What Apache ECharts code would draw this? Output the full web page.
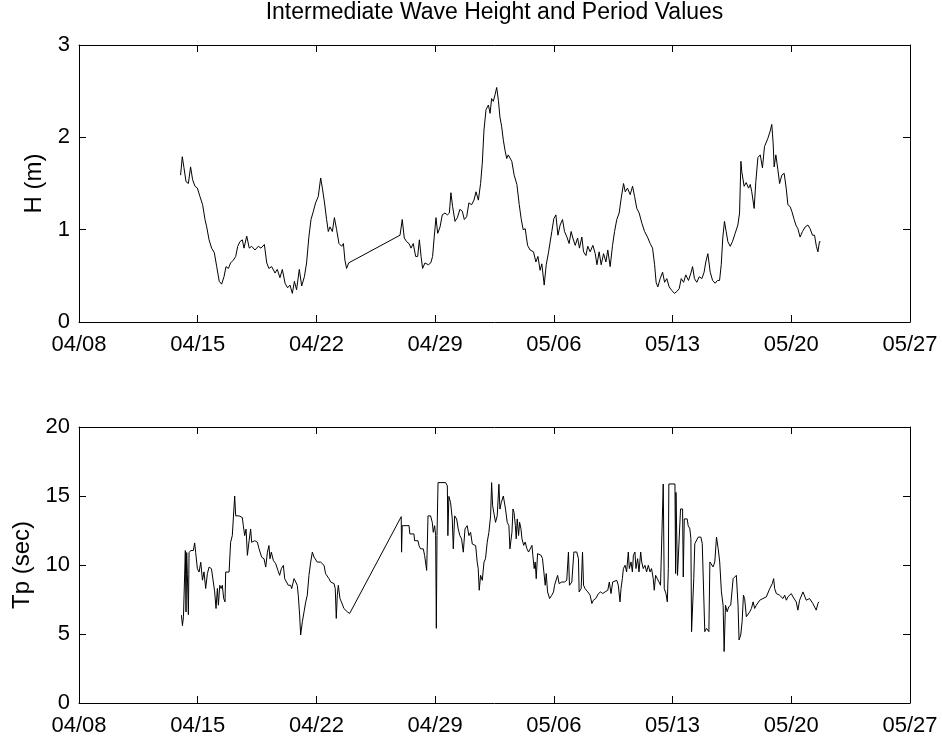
<!DOCTYPE html>
<html>
<head>
<meta charset="utf-8">
<script src="https://cdn.jsdelivr.net/npm/echarts@6/dist/echarts.min.js"></script>
<style>
html,body{margin:0;padding:0;background:#fff;}
#chart{width:942px;height:742px;}
</style>
</head>
<body>
<div id="chart"></div>
<script>
// x values are days after 04/08
var xTickLabels = ["04/08","04/15","04/22","04/29","05/06","05/13","05/20","05/27"];
var titleText = "Intermediate Wave Height and Period Values";

var hDays = [5.99,6.09,6.19,6.31,6.45,6.58,6.70,6.84,6.98,7.13,7.29,7.43,7.53,7.67,7.82,7.98,8.12,8.27,8.41,8.55,8.67,8.81,8.94,9.10,9.24,9.36,9.49,9.63,9.73,9.89,10.04,10.18,10.38,10.57,10.73,10.93,11.07,11.20,11.36,11.56,11.69,11.85,11.99,12.15,12.30,12.44,12.58,12.70,12.83,12.99,13.13,13.29,13.42,13.56,13.68,13.82,13.95,14.11,14.25,14.35,14.47,14.60,14.70,14.80,14.94,15.06,15.19,15.33,15.49,15.59,15.68,15.78,15.90,
18.93,19.06,19.18,19.32,19.46,19.58,19.71,19.85,19.97,20.07,20.17,20.26,20.40,20.60,20.74,20.85,20.95,21.05,21.15,21.29,21.42,21.58,21.72,21.84,21.93,22.03,22.17,22.31,22.46,22.60,22.72,22.86,22.99,23.15,23.29,23.41,23.55,23.68,23.78,23.88,24.00,24.14,24.24,24.33,24.43,24.53,24.63,24.73,24.82,24.92,25.02,25.12,25.22,25.31,
25.52,25.66,25.82,25.96,26.07,26.19,26.31,26.45,26.60,26.80,26.94,27.06,27.19,27.29,27.43,27.55,27.69,27.88,28.00,28.12,28.24,28.37,28.51,28.63,28.77,28.90,29.02,29.12,29.26,29.40,29.51,29.65,29.75,29.89,30.00,30.14,30.30,30.44,30.54,30.67,30.79,30.93,31.07,31.18,31.32,31.46,31.58,31.71,31.85,31.97,32.11,32.21,32.34,32.50,32.64,32.76,32.89,33.03,33.19,33.35,33.52,33.68,33.82,33.94,34.03,34.13,34.27,34.41,34.53,34.66,34.80,34.96,35.11,35.25,35.39,35.51,35.65,35.78,35.94,36.08,36.18,36.29,36.43,36.57,36.73,36.86,36.96,37.08,37.22,37.36,37.51,37.65,37.77,37.87,37.96,38.06,38.16,38.26,38.40,38.53,38.69,38.85,38.95,39.03,39.08,39.22,39.34,39.48,39.58,39.67,39.81,39.91,40.03,40.17,40.30,40.42,40.52,40.62,40.76,40.85,40.93,40.99,41.09,41.21,41.31,41.44,41.58,41.70,41.80,41.93,42.03,42.17,42.27,42.39,42.52,42.66,42.82,42.98,43.11,43.25,43.37,43.48,43.57,43.66,43.72];
var hValues = [1.59,1.79,1.67,1.52,1.50,1.68,1.54,1.47,1.45,1.36,1.27,1.11,1.03,0.89,0.80,0.75,0.60,0.44,0.41,0.49,0.60,0.58,0.64,0.67,0.71,0.82,0.87,0.89,0.80,0.93,0.80,0.82,0.78,0.82,0.80,0.84,0.64,0.58,0.60,0.53,0.57,0.48,0.57,0.42,0.37,0.40,0.31,0.44,0.35,0.57,0.39,0.49,0.64,0.93,1.11,1.20,1.29,1.36,1.56,1.45,1.30,1.11,0.98,1.03,0.98,1.13,1.00,0.85,0.82,0.85,0.67,0.58,0.64,
0.94,1.11,0.91,0.87,0.85,0.80,0.85,0.71,0.71,0.89,0.71,0.58,0.64,0.62,0.64,0.71,0.93,1.13,0.96,1.03,1.16,1.18,1.16,1.18,1.40,1.25,1.09,1.13,1.22,1.20,1.11,1.14,1.29,1.27,1.32,1.41,1.32,1.50,1.72,2.08,2.30,2.35,2.26,2.42,2.39,2.46,2.54,2.40,2.22,2.12,1.97,1.86,1.77,1.81,
1.74,1.59,1.49,1.27,1.12,1.00,1.01,0.83,0.78,0.76,0.65,0.71,0.56,0.63,0.40,0.62,0.76,0.98,1.12,1.16,0.94,1.05,1.11,0.98,0.92,0.85,0.98,0.91,0.83,0.91,0.80,0.92,0.76,0.72,0.82,0.76,0.83,0.74,0.62,0.76,0.62,0.74,0.65,0.78,0.60,0.83,0.98,1.11,1.18,1.34,1.50,1.41,1.45,1.38,1.47,1.36,1.23,1.18,1.07,0.98,0.92,0.85,0.80,0.62,0.43,0.38,0.47,0.54,0.43,0.47,0.38,0.34,0.31,0.33,0.36,0.47,0.43,0.51,0.45,0.53,0.60,0.47,0.43,0.49,0.47,0.54,0.65,0.74,0.54,0.45,0.42,0.45,0.45,0.62,0.91,1.09,0.98,0.87,0.82,0.87,0.96,1.05,1.18,1.74,1.63,1.47,1.51,1.45,1.49,1.41,1.23,1.52,1.78,1.81,1.67,1.90,1.92,1.99,2.07,2.14,1.94,1.68,1.81,1.65,1.50,1.59,1.61,1.45,1.27,1.25,1.20,1.11,1.05,1.01,0.92,0.98,1.03,1.05,1.01,0.94,0.94,0.82,0.76,0.87,0.87];

var tpDays = [6.04,6.10,6.16,6.21,6.27,6.31,6.35,6.39,6.45,6.49,6.59,6.74,6.82,6.88,6.98,7.08,7.18,7.28,7.37,7.47,7.57,7.67,7.81,7.92,8.00,8.08,8.16,8.22,8.30,8.38,8.45,8.53,8.61,8.65,8.75,8.85,8.94,9.04,9.14,9.18,9.24,9.44,9.63,9.69,9.77,9.85,9.93,10.03,10.12,10.18,10.26,10.36,10.52,10.61,10.77,10.91,11.01,11.11,11.20,11.26,11.34,11.46,11.60,11.73,11.83,11.93,12.05,12.13,12.23,12.34,12.48,12.54,12.68,12.78,12.87,12.93,13.01,13.07,13.17,13.27,13.37,13.46,13.56,13.66,13.76,13.86,13.95,14.05,14.15,14.25,14.35,14.45,14.54,14.64,14.74,14.84,14.94,15.04,15.11,15.17,15.23,15.29,15.39,15.47,15.55,15.62,15.72,15.82,15.96,
19.00,19.02,19.06,19.46,19.51,19.75,19.79,19.99,20.05,20.14,20.30,20.38,20.50,20.58,20.73,20.83,20.89,20.97,21.03,21.07,21.11,21.17,21.62,21.72,21.75,21.81,21.91,22.01,22.07,22.15,22.27,22.36,22.46,22.56,22.66,22.76,22.89,22.99,23.09,23.19,23.29,23.39,23.48,23.54,23.60,23.68,23.78,23.88,23.97,24.07,24.17,24.27,24.33,24.39,24.47,24.56,24.66,24.76,24.82,24.90,25.02,25.15,25.25,25.35,25.41,
25.53,25.59,25.65,25.73,25.78,25.84,25.92,25.98,26.06,26.12,26.22,26.31,26.41,26.51,26.61,26.71,26.76,26.84,26.90,26.96,27.04,27.14,27.25,27.33,27.41,27.49,27.55,27.63,27.75,27.88,27.98,28.04,28.12,28.22,28.31,28.47,28.63,28.76,28.86,28.92,28.98,29.06,29.18,29.35,29.45,29.49,29.61,29.69,29.75,29.84,30.00,30.14,30.24,30.33,30.47,30.63,30.76,30.88,31.02,31.18,31.27,31.37,31.47,31.57,31.71,31.80,31.90,31.96,32.04,32.10,32.20,32.29,32.39,32.45,32.55,32.63,32.69,32.78,32.84,32.94,33.02,33.12,33.18,33.27,33.37,33.47,33.57,33.67,33.76,33.86,33.92,34.00,34.10,34.20,34.29,34.39,34.45,34.51,34.61,34.69,34.75,34.78,35.14,35.18,35.20,35.29,35.39,35.47,35.59,35.63,35.69,35.86,35.92,36.02,36.08,36.12,36.18,36.25,36.31,36.41,36.51,36.67,36.75,36.86,36.90,37.00,37.14,37.20,37.29,37.39,37.49,37.59,37.69,37.78,37.88,37.98,38.04,38.12,38.22,38.31,38.43,38.51,38.57,38.67,38.76,38.86,38.92,39.02,39.10,39.18,39.25,39.35,39.45,39.55,39.65,39.75,39.84,39.94,40.04,40.14,40.24,40.33,40.43,40.53,40.63,40.73,40.82,40.88,40.96,41.02,41.12,41.22,41.31,41.41,41.51,41.61,41.71,41.80,41.90,42.00,42.10,42.20,42.29,42.39,42.49,42.59,42.69,42.78,42.88,42.98,43.08,43.18,43.27,43.37,43.47,43.57,43.63];
var tpValues = [6.37,5.60,6.25,6.37,11.05,6.6,10.9,9.3,6.4,10.9,11.05,11.05,11.6,10.9,9.73,9.49,10.2,8.9,9.5,8.3,9.37,9.85,9.73,8.77,8.05,6.85,8.3,7.09,8.53,8.3,8.53,7.57,7.33,9.49,9.49,9.49,11.65,12.13,12.13,15.0,13.56,13.56,13.44,12.84,12.13,12.6,10.7,11.76,12.61,11.65,11.76,11.76,11.65,11.2,10.57,10.45,9.85,10.93,11.41,10.45,10.93,10.33,10.09,9.61,9.25,9.73,9.97,9.01,8.89,8.53,8.53,8.29,9.01,8.77,8.53,7.81,6.37,4.93,5.89,6.61,7.33,7.81,9.25,10.21,10.93,10.57,10.45,10.21,10.33,10.21,10.21,9.97,9.37,9.25,9.01,8.77,8.77,8.65,8.29,6.13,7.81,8.53,7.57,7.33,7.09,6.85,6.73,6.61,6.49,
13.5,10.93,12.85,12.85,12.25,12.25,11.76,11.76,11.4,11.17,11.17,10.69,9.61,13.56,13.56,13.09,12.37,12.85,12.13,5.41,12.13,15.97,15.97,15.73,12.13,14.97,14.53,13.33,11.17,13.56,13.33,12.61,12.13,11.89,10.93,12.61,12.85,12.13,12.37,11.52,11.4,11.4,10.21,9.73,8.17,9.25,8.89,10.21,10.45,11.65,12.37,13.56,15.97,14.29,14.29,13.09,13.56,15.85,14.05,14.53,15.0,14.05,13.09,12.85,11.17,
12.38,14.06,13.82,12.86,11.9,13.34,12.14,13.1,12.62,11.9,11.42,11.66,11.18,10.94,10.94,11.42,10.70,9.74,10.22,9.01,10.82,10.94,10.70,10.46,9.50,8.53,9.38,8.05,7.57,7.81,8.05,8.53,8.65,9.25,8.65,8.77,8.77,8.89,10.94,8.53,8.53,8.77,10.94,10.94,10.46,8.05,8.29,10.94,8.53,8.29,8.05,7.81,7.21,7.45,7.57,7.93,8.05,7.93,8.05,8.17,8.77,7.93,8.77,8.89,8.89,8.53,7.33,8.29,9.01,9.74,9.98,9.50,10.94,9.74,10.22,9.50,10.70,10.94,9.74,10.46,9.50,10.94,10.22,9.74,9.98,9.50,9.98,9.50,9.74,9.01,8.17,9.25,9.01,8.77,8.53,8.41,15.87,8.29,7.93,7.33,9.74,15.87,15.87,9.38,15.26,9.25,9.25,14.06,14.06,9.13,13.34,13.34,12.86,12.62,11.9,5.17,5.17,9.01,11.54,11.54,12.02,12.02,11.54,11.54,5.17,5.41,5.17,10.22,10.22,9.86,10.22,12.02,11.18,10.22,8.05,7.09,3.73,7.09,6.61,6.97,7.09,7.21,9.01,9.01,9.25,7.09,4.57,4.93,5.89,7.81,7.57,6.25,6.13,6.61,6.85,7.33,6.85,7.09,7.09,7.45,7.33,7.57,7.45,7.69,7.81,8.29,8.29,8.65,9.01,8.29,7.93,8.05,7.81,7.93,7.57,7.81,7.45,7.69,7.57,7.93,7.69,7.57,7.33,6.73,7.45,7.57,8.05,7.93,7.45,7.33,7.57,7.45,7.21,7.33,6.73,7.21,7.33];

function pairs(xs, ys){ return xs.map(function(x,i){ return [x, ys[i]]; }); }

var FONT = '"Liberation Sans", Arial, sans-serif';
var axisCol = '#000';

function xAx(gridIndex, pos, showLabels){
  return {
    type:'value', gridIndex:gridIndex, position:pos, min:0, max:49, interval:7,
    axisLine:{show:true, onZero:false, lineStyle:{color:axisCol, width:1}},
    axisTick:{show:true, inside:true, length:7, lineStyle:{color:axisCol, width:1}},
    splitLine:{show:false},
    axisLabel:{show:showLabels, color:'#000', fontFamily:FONT, fontSize:22, margin:12,
      formatter:function(v){ return xTickLabels[Math.round(v/7)]; }}
  };
}
function yAx(gridIndex, pos, max, interval, showLabels, name, nameGap){
  return {
    type:'value', gridIndex:gridIndex, position:pos, min:0, max:max, interval:interval,
    name: name || '', nameLocation:'middle', nameGap: nameGap || 0, nameRotate:90,
    nameTextStyle:{color:'#000', fontFamily:FONT, fontSize:24},
    axisLine:{show:true, onZero:false, lineStyle:{color:axisCol, width:1}},
    axisTick:{show:true, inside:true, length:7, lineStyle:{color:axisCol, width:1}},
    splitLine:{show:false},
    axisLabel:{show:showLabels, color:'#000', fontFamily:FONT, fontSize:22, margin:9}
  };
}

var chart = echarts.init(document.getElementById('chart'), null, {renderer:'canvas'});
chart.setOption({
  backgroundColor:'#fff',
  animation:false,
  graphic:[{type:'text', x:494.5, y:1, style:{text:titleText, fill:'#000', textAlign:'center', textVerticalAlign:'top', font:'23px "Liberation Sans", Arial, sans-serif'}}],
  grid:[
    {left:79, top:45, width:831, height:277},
    {left:79, top:427, width:831, height:276}
  ],
  xAxis:[ xAx(0,'bottom',true), xAx(0,'top',false), xAx(1,'bottom',true), xAx(1,'top',false) ],
  yAxis:[ yAx(0,'left',3,1,true,'H (m)',32), yAx(0,'right',3,1,false), yAx(1,'left',20,5,true,'Tp (sec)',42), yAx(1,'right',20,5,false) ],
  series:[
    {type:'line', xAxisIndex:0, yAxisIndex:0, data:pairs(hDays,hValues), showSymbol:false, symbol:'none',
     lineStyle:{color:'#000', width:1}},
    {type:'line', xAxisIndex:2, yAxisIndex:2, data:pairs(tpDays,tpValues), showSymbol:false, symbol:'none',
     lineStyle:{color:'#000', width:1}}
  ]
});
</script>
</body>
</html>
